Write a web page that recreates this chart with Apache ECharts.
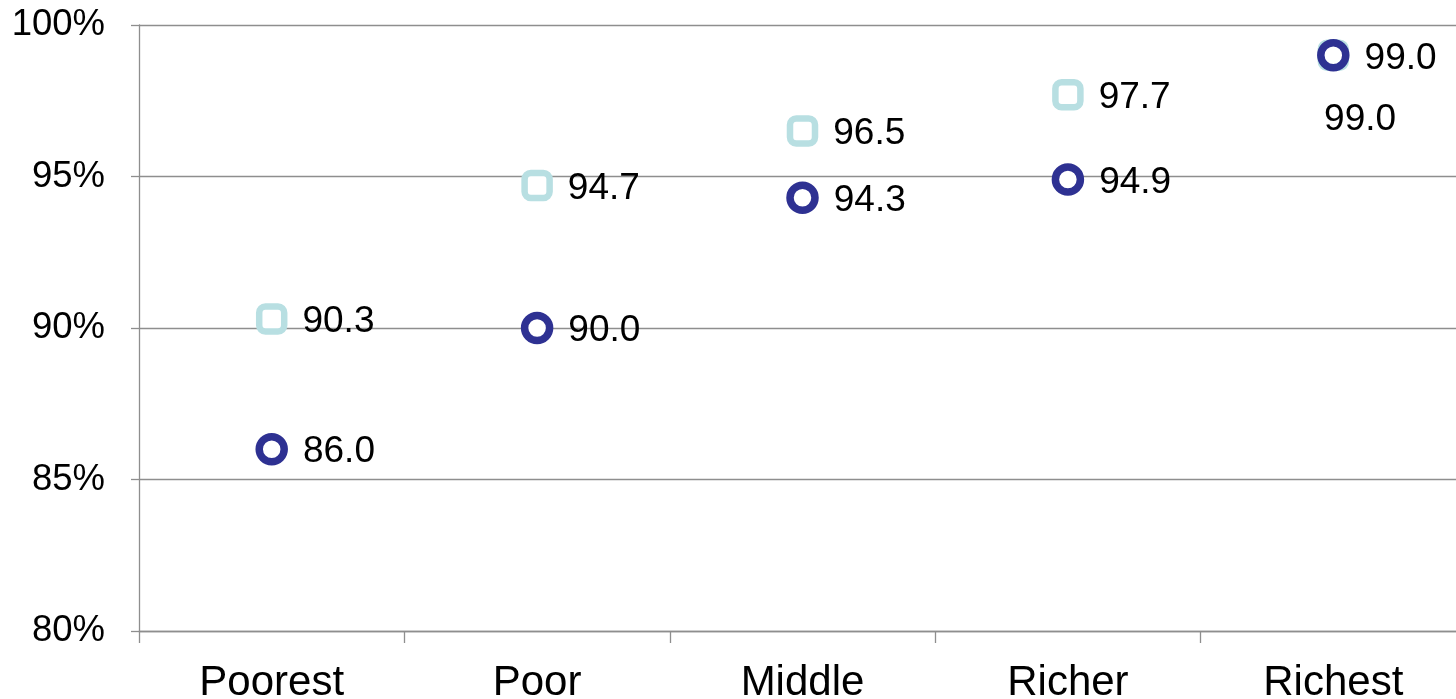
<!DOCTYPE html>
<html>
<head>
<meta charset="utf-8">
<script src="https://cdn.jsdelivr.net/npm/echarts@6/dist/echarts.min.js"></script>
<style>
  html, body { margin: 0; padding: 0; background: #ffffff; overflow: hidden; }
  #chart { width: 1466px; height: 699px; }
</style>
</head>
<body>
<div id="chart"></div>
<script>
// Wealth quintiles and the two measured shares (percent)
const categories = ['Poorest', 'Poor', 'Middle', 'Richer', 'Richest'];
const squareValues = [90.3, 94.7, 96.5, 97.7, 99.0];
const circleValues = [86.0, 90.0, 94.3, 94.9, 99.0];
const yTicks = { min: 80, max: 100, interval: 5 };

const FONT = 'Liberation Sans, Arial, sans-serif';
const gridColor = '#8e8e8e';

const labelStyle = {
  show: true,
  position: 'right',
  distance: 15,
  offset: [0, 3],
  color: '#000',
  fontSize: 37,
  fontFamily: FONT,
  formatter: p => p.value.toFixed(1)
};

// The last square's label sits below the overlapping circle marker
const squareData = squareValues.map((v, i) =>
  i === squareValues.length - 1
    ? { value: v, label: { offset: [-40, 64] } }
    : v
);

const chart = echarts.init(document.getElementById('chart'), null, { renderer: 'canvas' });
chart.setOption({
  animation: false,
  backgroundColor: '#ffffff',
  grid: { left: 139, right: 0, top: 25, bottom: 68, containLabel: false, outerBoundsMode: 'none' },
  xAxis: {
    type: 'category',
    data: categories,
    boundaryGap: true,
    axisLine: { show: true, lineStyle: { color: gridColor, width: 1.3 } },
    axisTick: { show: true, length: 12, lineStyle: { color: gridColor, width: 1.3 } },
    axisLabel: { color: '#000', fontSize: 42, fontFamily: FONT, margin: 31 },
    splitLine: { show: false }
  },
  yAxis: {
    type: 'value',
    min: yTicks.min,
    max: yTicks.max,
    interval: yTicks.interval,
    axisLine: { show: true, lineStyle: { color: gridColor, width: 1.3 } },
    axisTick: { show: true, length: 8, lineStyle: { color: gridColor, width: 1.3 } },
    axisLabel: {
      color: '#000', fontSize: 36.5, fontFamily: FONT, margin: 34,
      padding: [8, 0, 0, 0],
      formatter: '{value}%'
    },
    splitLine: { show: true, lineStyle: { color: gridColor, width: 1.3 } }
  },
  series: [
    {
      type: 'scatter',
      data: squareData,
      symbol: 'roundRect',
      symbolSize: 25,
      itemStyle: { color: '#ffffff', borderColor: '#b8dfe2', borderWidth: 6.5, opacity: 1 },
      label: labelStyle,
      z: 2
    },
    {
      type: 'scatter',
      data: circleValues,
      symbol: 'circle',
      symbolSize: 25,
      itemStyle: { color: '#ffffff', borderColor: '#2e3192', borderWidth: 7.5, opacity: 1 },
      label: labelStyle,
      z: 3
    }
  ]
});
</script>
</body>
</html>
